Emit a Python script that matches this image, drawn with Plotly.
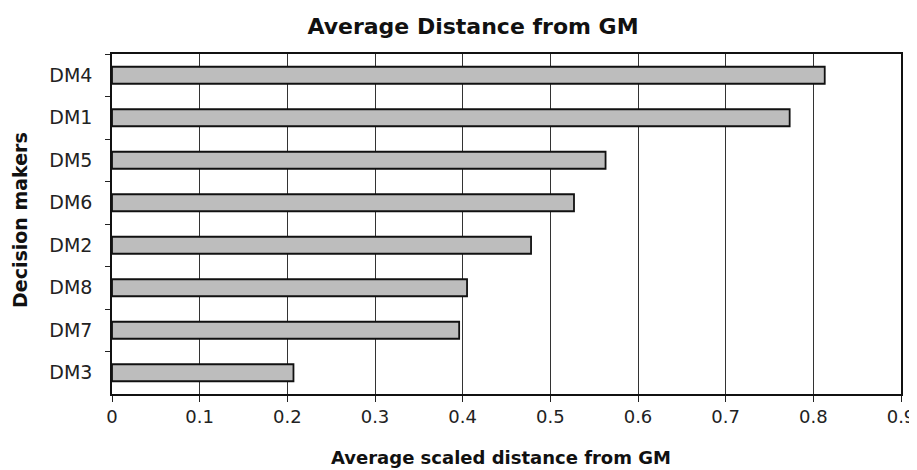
import plotly.graph_objects as go

categories = ["DM4", "DM1", "DM5", "DM6", "DM2", "DM8", "DM7", "DM3"]
values = [0.813, 0.773, 0.563, 0.527, 0.478, 0.405, 0.396, 0.207]
x_ticks = [0, 0.1, 0.2, 0.3, 0.4, 0.5, 0.6, 0.7, 0.8, 0.9]
x_tick_labels = ["0", "0.1", "0.2", "0.3", "0.4", "0.5", "0.6", "0.7", "0.8", "0.9"]

FONT = "DejaVu Sans"

# page has an 8px body margin, so the figure is sized to fit inside the window
W, H = 909, 462
L, R, T, B = 104, 893, 46, 386  # plot area in figure pixels

fig = go.Figure()
fig.add_trace(go.Bar(
    x=values,
    y=categories,
    orientation="h",
    marker=dict(color="#bdbdbd", line=dict(color="#111111", width=1.8)),
    width=0.4,
    showlegend=False,
))

fig.update_layout(
    width=W,
    height=H,
    margin=dict(l=L, r=W - R, t=T, b=H - B, autoexpand=False),
    paper_bgcolor="white",
    plot_bgcolor="white",
    font=dict(family=FONT, color="#111111"),
    title=dict(
        text="<b>Average Distance from GM</b>",
        x=465 / W, xanchor="center",
        y=1 - 18 / H, yanchor="middle", yref="container",
        font=dict(family=FONT, size=22, color="#111111"),
    ),
    bargap=0.6,
)

fig.update_xaxes(
    automargin=False,
    range=[0, 0.9],
    tickvals=x_ticks,
    ticktext=x_tick_labels,
    ticks="outside",
    ticklen=6,
    tickwidth=1,
    tickcolor="#222222",
    showgrid=True,
    gridcolor="#333333",
    gridwidth=1,
    showline=True,
    linecolor="#111111",
    linewidth=1.5,
    mirror=True,
    zeroline=False,
    tickfont=dict(family=FONT, size=18, color="#222222"),
)

fig.update_yaxes(
    automargin=False,
    type="category",
    categoryorder="array",
    categoryarray=categories,
    autorange="reversed",
    tickson="boundaries",
    ticks="outside",
    ticklen=5,
    tickwidth=1,
    tickcolor="#222222",
    showgrid=False,
    showline=True,
    linecolor="#111111",
    linewidth=1.5,
    mirror=True,
    ticklabelstandoff=14,
    tickfont=dict(family=FONT, size=19, color="#222222"),
)

fig.add_annotation(
    text="<b>Average scaled distance from GM</b>",
    xref="paper", yref="paper",
    x=(493 - L) / (R - L), y=-(449 - B) / (B - T),
    xanchor="center", yanchor="middle", showarrow=False,
    font=dict(family=FONT, size=18, color="#111111"),
)
fig.add_annotation(
    text="<b>Decision makers</b>",
    xref="paper", yref="paper",
    x=-(L - 12) / (R - L), y=(B - 212) / (B - T),
    xanchor="center", yanchor="middle", showarrow=False, textangle=-90,
    font=dict(family=FONT, size=19, color="#111111"),
)

fig.write_html("out.html")
